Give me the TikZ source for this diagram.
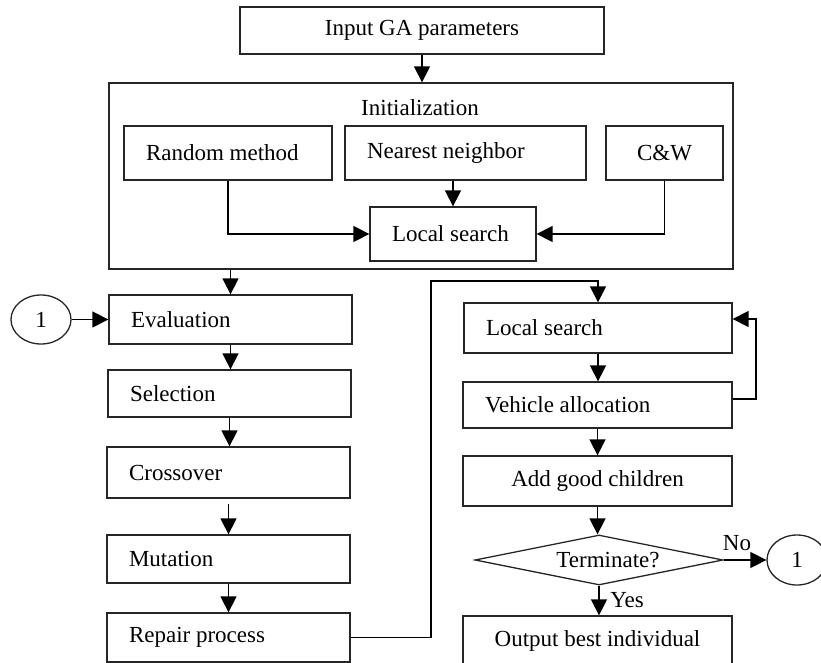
\documentclass[tikz,border=0pt]{standalone}
\usepackage{fontspec}
\setmainfont{Liberation Serif}
\usetikzlibrary{arrows.meta,shapes.geometric}
\begin{document}
\begin{tikzpicture}[x=1pt,y=-1pt,
  every node/.style={font=\fontsize{23}{27}\selectfont},
  box/.style={draw=black!85, line width=1.3pt, inner ysep=0pt, inner xsep=0pt},
  lbox/.style={box, align=flush left, inner xsep=22pt},
  cbox/.style={box, align=center},
  arr/.style={line width=1.5pt, -{Triangle[length=16pt,width=16pt]}},
  term/.style={draw=black!85, line width=1.3pt, diamond, shape aspect=5, inner sep=0pt},
  conn/.style={draw=black!85, line width=1.3pt, ellipse, inner sep=0pt}]
\useasboundingbox (0,0) rectangle (821,663);

% top: parameters and initialization block
\node[cbox, minimum width=364, minimum height=47] (inp) at (422,30.5) {Input GA parameters};
\node[box, minimum width=624, minimum height=186] (init) at (421,176) {};
\node (inittitle) at (420,108) {Initialization};
\node[lbox, minimum height=54, text width=164pt] (rm) at (228,153) {Random method};
\node[lbox, minimum height=54, text width=197pt] (nn) at (465.5,153) {Nearest neighbor};
\node[cbox, minimum width=117, minimum height=54] (cw) at (664.5,153) {C\&W};
\node[lbox, minimum height=54, text width=122pt] (ls) at (453,234) {Local search};

% left column: GA operators
\node[conn, minimum width=60, minimum height=49] (c1) at (41,319.5) {1};
\node[lbox, minimum height=49, text width=199pt] (eval) at (230.5,319.5) {Evaluation};
\node[lbox, minimum height=47, text width=199pt] (sel) at (229.5,393.5) {Selection};
\node[lbox, minimum height=51, text width=199pt] (cross) at (228.5,472.5) {Crossover};
\node[lbox, minimum height=48, text width=199pt] (mut) at (228.5,559) {Mutation};
\node[lbox, minimum height=49, text width=199pt] (rep) at (228.5,637.5) {Repair process};

% right column: improvement and termination
\node[lbox, minimum height=50, text width=224pt] (ls2) at (598,328) {Local search};
\node[lbox, minimum height=46, text width=225pt] (va) at (597.5,405) {Vehicle allocation};
\node[cbox, minimum width=269, minimum height=50] (agc) at (597.5,481) {Add good children};
\node[term, minimum width=248, minimum height=50] (tm) at (599,560) {\hspace*{18pt}Terminate?};
\node[conn, minimum width=60, minimum height=50] (c2) at (797,560) {1};
\node[cbox, minimum width=269, minimum height=50] (out) at (597.5,641) {Output best individual};
\node (no) at (737,543) {No};
\node (yes) at (627,600) {Yes};

% connectors
\draw[arr] (inp.south) -- (inp.south |- init.north);
\draw[arr] (ls.north |- nn.south) -- (ls.north);
\draw[arr] (rm.south) |- (ls.west);
\draw[arr] (cw.south) |- (ls.east);
\draw[arr] (eval.north |- init.south) -- (eval.north);
\draw[arr] (c1.east) -- (eval.west);
\draw[arr] (eval.south) -- (eval.south |- sel.north);
\draw[arr] (sel.south) -- (sel.south |- cross.north);
\draw[arr, shorten <=5pt] (cross.south) -- (cross.south |- mut.north);
\draw[arr] (mut.south) -- (mut.south |- rep.north);

\coordinate (bend) at (431,281);
\draw[arr] (rep.east) -| (bend) -| (ls2.north);
\draw[arr] (ls2.south) -- (ls2.south |- va.north);
\coordinate (fbx) at (756,360);
\draw[arr] ([yshift=6pt]va.east) -| (fbx) |- ([yshift=9pt]ls2.east);
\draw[arr] (va.south) -- (va.south |- agc.north);
\draw[arr] (agc.south) -- (agc.south |- tm.north);
\draw[arr] (tm.east) -- (c2.west);
\draw[arr] (tm.south) -- (tm.south |- out.north);
\end{tikzpicture}
\end{document}
